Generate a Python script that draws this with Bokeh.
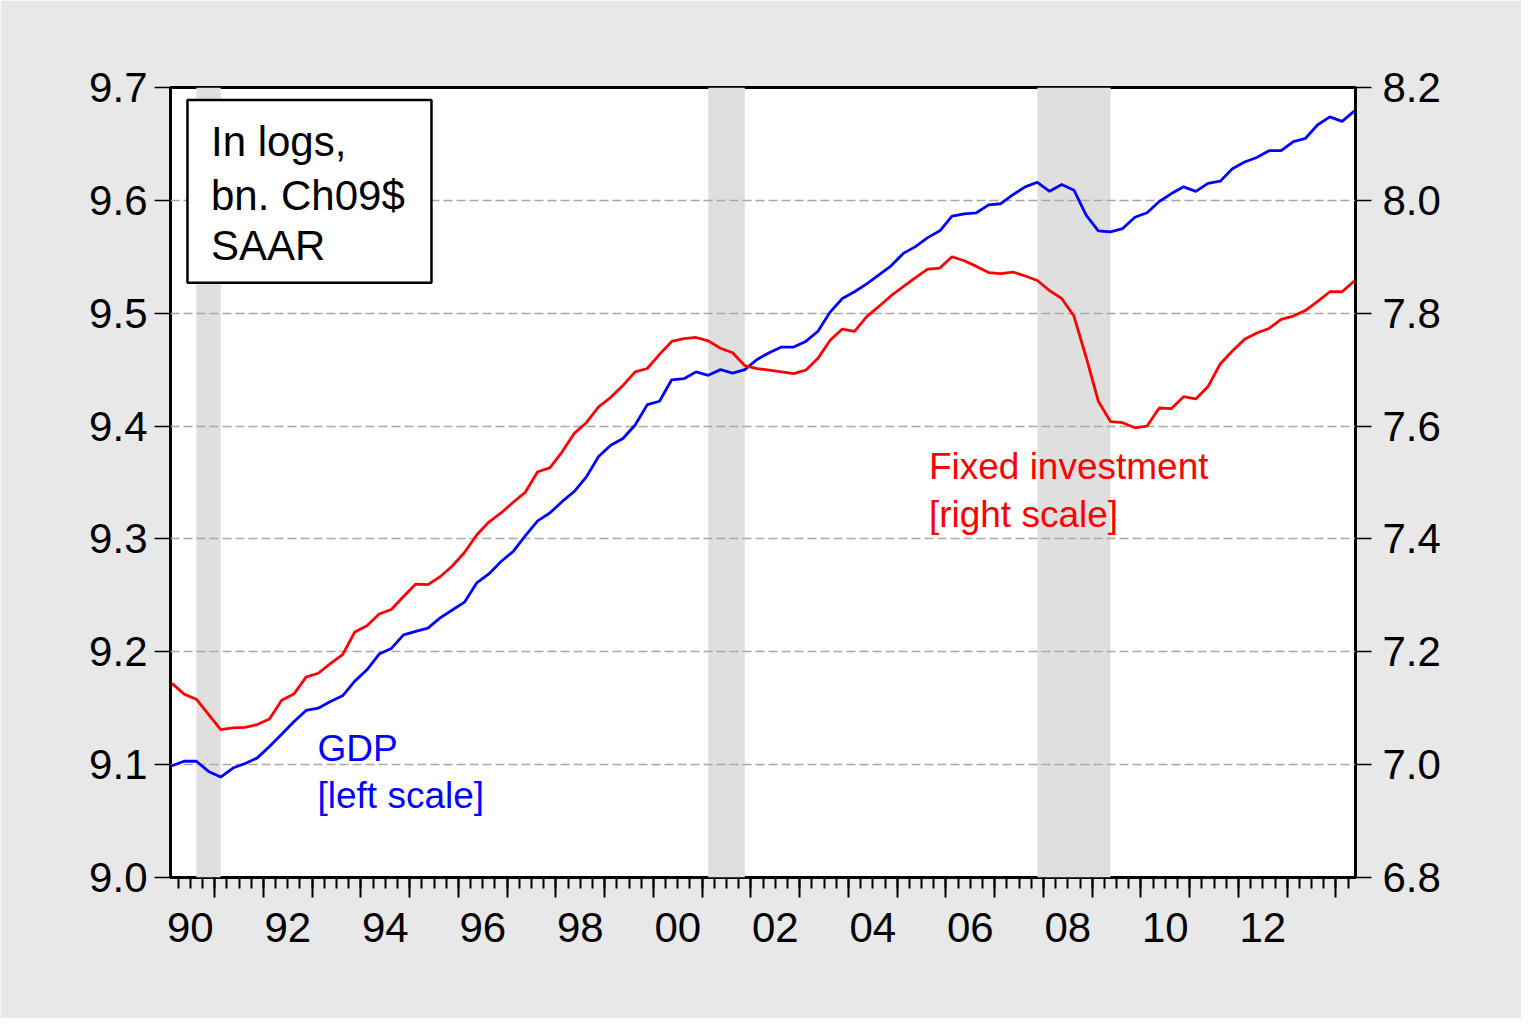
from bokeh.plotting import figure
from bokeh.models import (Range1d, LinearAxis, FixedTicker, PrintfTickFormatter,
                          Label, BoxAnnotation, ColumnDataSource)
from bokeh.embed import file_html
from bokeh.resources import INLINE

# ---------------- data (log levels, quarterly 1990Q1 - 2014Q2) ----------------
quarters = [f"{y}Q{q}" for y in range(1990, 2015) for q in range(1, 5)][:98]

gdp = [9.099, 9.103, 9.103, 9.094, 9.089, 9.097, 9.101, 9.106, 9.116, 9.127,
       9.138, 9.148, 9.150, 9.156, 9.161, 9.174, 9.184, 9.198, 9.203, 9.215,
       9.218, 9.221, 9.230, 9.237, 9.244, 9.261, 9.269, 9.280, 9.289, 9.303,
       9.316, 9.323, 9.333, 9.342, 9.355, 9.373, 9.383, 9.389, 9.401, 9.419,
       9.422, 9.441, 9.442, 9.448, 9.445, 9.450, 9.447, 9.450, 9.459, 9.465,
       9.470, 9.470, 9.475, 9.484, 9.501, 9.513, 9.519, 9.526, 9.534, 9.542,
       9.553, 9.559, 9.567, 9.573, 9.586, 9.588, 9.589, 9.596, 9.597, 9.605,
       9.612, 9.616, 9.608, 9.614, 9.609, 9.587, 9.573, 9.572, 9.575, 9.585,
       9.589, 9.599, 9.606, 9.612, 9.608, 9.615, 9.617, 9.628, 9.634, 9.638,
       9.644, 9.644, 9.652, 9.655, 9.667, 9.674, 9.670, 9.679]

fixed_inv = [7.144, 7.125, 7.116, 7.089, 7.062, 7.065, 7.066, 7.071, 7.081, 7.114,
             7.125, 7.155, 7.162, 7.179, 7.195, 7.235, 7.246, 7.267, 7.275, 7.298,
             7.320, 7.319, 7.333, 7.352, 7.376, 7.407, 7.430, 7.446, 7.465, 7.483,
             7.519, 7.526, 7.554, 7.587, 7.606, 7.634, 7.651, 7.672, 7.696, 7.702,
             7.727, 7.750, 7.755, 7.757, 7.751, 7.738, 7.730, 7.707, 7.702, 7.699,
             7.696, 7.693, 7.699, 7.720, 7.752, 7.772, 7.768, 7.794, 7.812, 7.831,
             7.847, 7.863, 7.878, 7.880, 7.900, 7.893, 7.883, 7.872, 7.870, 7.873,
             7.866, 7.858, 7.840, 7.826, 7.795, 7.722, 7.644, 7.608, 7.606, 7.597,
             7.600, 7.632, 7.631, 7.652, 7.648, 7.670, 7.710, 7.733, 7.754, 7.765,
             7.773, 7.789, 7.795, 7.805, 7.821, 7.838, 7.838, 7.857]

recession_start = ["1990Q3", "2001Q1", "2007Q4"]
recession_end = ["1991Q1", "2001Q4", "2009Q2"]

label_years = [1990, 1992, 1994, 1996, 1998, 2000, 2002, 2004, 2006, 2008, 2010, 2012]
year_labels = ["90", "92", "94", "96", "98", "00", "02", "04", "06", "08", "10", "12"]

left_ticks = [9.0, 9.1, 9.2, 9.3, 9.4, 9.5, 9.6, 9.7]
right_ticks = [6.8, 7.0, 7.2, 7.4, 7.6, 7.8, 8.0, 8.2]

# ---------------- derived positions ----------------
idx = list(range(len(quarters)))
pos = {q: i for i, q in enumerate(quarters)}
FONT = "Liberation Sans"

p = figure(frame_width=1185, frame_height=790,
           min_border_left=170, min_border_right=166,
           min_border_top=87, min_border_bottom=141,
           x_range=Range1d(-0.12, 97.1), y_range=Range1d(left_ticks[0], left_ticks[-1]),
           output_backend="svg", toolbar_location=None,
           background_fill_color="white", border_fill_color="#E8E8E8",
           outline_line_color="black", outline_line_width=3)
p.extra_y_ranges = {"right": Range1d(right_ticks[0], right_ticks[-1])}

# recession shading
p.quad(left=[pos[s] for s in recession_start], right=[pos[e] for e in recession_end],
       bottom=left_ticks[0], top=left_ticks[-1],
       fill_color="#DFDFDF", line_color=None, level="image")

# grid
p.xgrid.visible = False
p.ygrid.ticker = FixedTicker(ticks=left_ticks[1:-1])
p.ygrid.grid_line_color = "#A8A8A8"
p.ygrid.grid_line_dash = "9 4"
p.ygrid.grid_line_width = 1.5

# lines
src = ColumnDataSource(dict(x=idx, gdp=gdp, inv=fixed_inv))
p.line("x", "gdp", source=src, line_color="#0000FF", line_width=2.8)
p.line("x", "inv", source=src, line_color="#FF0000", line_width=2.8, y_range_name="right")


def style_y(ax, standoff):
    ax.axis_line_color = None
    ax.major_tick_out = 16
    ax.major_tick_in = 0
    ax.minor_tick_out = 0
    ax.minor_tick_in = 0
    ax.major_tick_line_color = "black"
    ax.major_tick_line_width = 1.5
    ax.major_label_text_font = FONT
    ax.major_label_text_font_size = "42px"
    ax.major_label_text_color = "black"
    ax.major_label_standoff = standoff


# left axis
ya = p.yaxis[0]
ya.ticker = FixedTicker(ticks=left_ticks)
ya.formatter = PrintfTickFormatter(format="%.1f")
style_y(ya, 7)

# right axis
ra = LinearAxis(y_range_name="right", ticker=FixedTicker(ticks=right_ticks),
                formatter=PrintfTickFormatter(format="%.1f"))
style_y(ra, 11)
p.add_layout(ra, "right")

# bottom tick axis (year boundaries long, quarter boundaries short)
year_bounds = [i + 0.5 for i in idx[:-1] if quarters[i].endswith("Q4")]
quarter_bounds = [i + 0.5 for i in idx[:-1]]
xa = p.xaxis[0]
xa.ticker = FixedTicker(ticks=year_bounds, minor_ticks=quarter_bounds)
xa.major_label_overrides = {t: "" for t in year_bounds}
xa.major_label_text_font_size = "1px"
xa.major_label_standoff = 0
xa.axis_line_color = None
xa.major_tick_out = 20
xa.major_tick_in = 0
xa.minor_tick_out = 11
xa.minor_tick_in = 0
xa.major_tick_line_width = 2
xa.minor_tick_line_width = 2
xa.major_tick_line_color = "black"
xa.minor_tick_line_color = "black"

# bottom label axis (labels centred on the year)
label_pos = [pos[f"{y}Q1"] + 1.5 for y in label_years]
la = LinearAxis(ticker=FixedTicker(ticks=label_pos),
                major_label_overrides={t: s for t, s in zip(label_pos, year_labels)})
la.axis_line_color = None
la.major_tick_out = 0
la.major_tick_in = 0
la.minor_tick_out = 0
la.minor_tick_in = 0
la.major_label_text_font = FONT
la.major_label_text_font_size = "42px"
la.major_label_text_color = "black"
la.major_label_standoff = 15
p.add_layout(la, "below")

# note box
p.add_layout(BoxAnnotation(left=1.27, right=21.29, top=9.689, bottom=9.527,
                           fill_color="white", fill_alpha=1.0,
                           line_color="black", line_alpha=1.0, line_width=2.5))
for txt, yy in zip(["In logs,", "bn. Ch09$", "SAAR"], [9.652, 9.6047, 9.5604]):
    p.add_layout(Label(x=3.2, y=yy, text=txt, text_font=FONT, text_font_size="42px",
                       text_color="black", text_baseline="alphabetic"))

# series annotations
for txt, yy in zip(["Fixed investment", "[right scale]"], [9.364, 9.322]):
    p.add_layout(Label(x=62.1, y=yy, text=txt, text_font=FONT, text_font_size="37px",
                       text_color="#FF0000", text_baseline="alphabetic"))
for txt, yy in zip(["GDP", "[left scale]"], [9.1145, 9.0731]):
    p.add_layout(Label(x=11.94, y=yy, text=txt, text_font=FONT, text_font_size="37px",
                       text_color="#0000FF", text_baseline="alphabetic"))

open("out.html", "w").write(file_html(p, INLINE))
